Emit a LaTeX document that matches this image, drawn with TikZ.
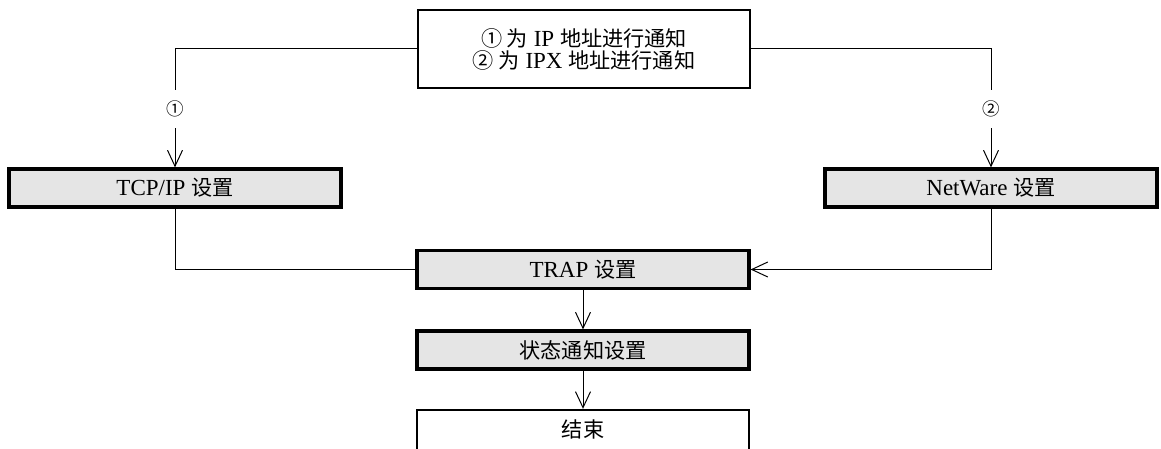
\documentclass[tikz,border=0pt]{standalone}
\usepackage{fontspec}
\setmainfont{Liberation Serif}
\newfontfamily\cjk[Scale=0.92]{Noto Sans CJK SC}
\usetikzlibrary{arrows.meta}
\newcommand{\zh}[1]{{\cjk #1}}
\tikzset{
  setbox/.style={draw, line width=1.6pt, fill=gray!20, minimum width=166pt,
    minimum height=19pt, inner sep=0pt},
  plainbox/.style={draw, line width=1.2pt, fill=white, minimum width=166pt,
    inner sep=0pt},
  branch/.style={inner sep=0pt, minimum height=19pt, font=\cjk\fontsize{9.5}{9.5}\selectfont},
  conn/.style={line width=0.5pt},
  arr/.style={conn, -{Straight Barb[length=8pt, width=7.5pt]}}
}
\begin{document}
\begin{tikzpicture}[x=0.5pt,y=-0.5pt,font=\fontsize{11.5}{11}\selectfont]
\clip (0,0) rectangle (1161,449);
% Auswahl oben
\node[plainbox, minimum height=39pt, align=center] (notice) at (584,49)
  {\zh{① 为} IP \zh{地址进行通知}\\ \zh{② 为} IPX \zh{地址进行通知}};
\node[branch] (one) at (175,109) {①};
\node[branch] (two) at (991,109) {②};
% Einstellungen
\node[setbox] (tcp) at (175,188) {TCP/IP \zh{设置}};
\node[setbox] (netware) at (991,188) {NetWare \zh{设置}};
\node[setbox] (trap) at (583,269.5) {TRAP \zh{设置}};
\node[setbox] (state) at (583,350) {\zh{状态通知设置}};
\node[plainbox, minimum height=30pt, text height=8pt, text depth=10.6pt] (end) at (583,440) {\zh{结束}};
% Verbindungen
\draw[conn] (notice.west) -| (one.north);
\draw[arr] (one.south) -- (tcp.north);
\draw[conn] (notice.east) -| (two.north);
\draw[arr] (two.south) -- (netware.north);
\draw[conn] (tcp.south) |- (trap.west);
\draw[arr] (netware.south) |- (trap.east);
\draw[arr] (trap) -- (state);
\draw[arr] (state) -- (end);
\end{tikzpicture}
\end{document}
